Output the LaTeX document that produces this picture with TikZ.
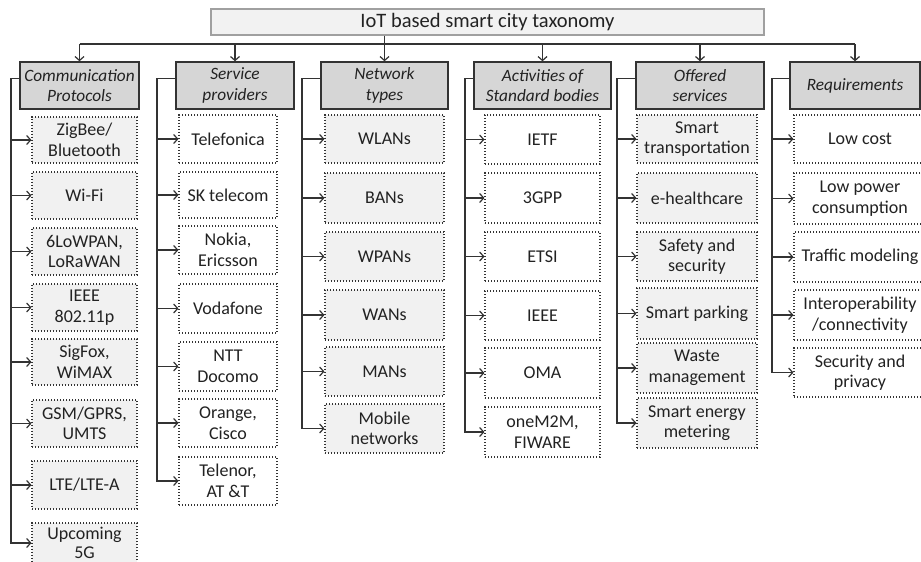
\documentclass[tikz,border=0pt]{standalone}
\usepackage{fontspec}
\setmainfont{Carlito}
\usetikzlibrary{arrows.meta}
\definecolor{linec}{HTML}{333333}
\definecolor{txt}{HTML}{222222}
\definecolor{hfill}{HTML}{D6D6D6}
\definecolor{kfill}{HTML}{F1F1F1}
\definecolor{tfill}{HTML}{F2F2F2}
\definecolor{tborder}{HTML}{A0A0A0}
\begin{document}
\begin{tikzpicture}[x=1pt,y=-1pt,
  every node/.style={text=txt, font=\fontsize{18}{20.5}\selectfont, align=center, inner sep=0pt},
  titlebox/.style={draw=tborder, fill=tfill, line width=1.2pt, minimum width=553pt, minimum height=26pt, font=\fontsize{20.5}{24}\selectfont},
  headbox/.style={draw=linec, fill=hfill, line width=1.4pt, minimum height=47pt, font=\fontsize{17.3}{20.5}\selectfont\itshape},
  kid/.style={draw=linec, line width=1.1pt, dash pattern=on 1.1pt off 1.9pt},
  kidg/.style={kid, fill=kfill},
  kidw/.style={kid, fill=white},
  cA/.style={kidg, minimum width=105pt},
  cB/.style={kidw, minimum width=98pt},
  cC/.style={kidg, minimum width=119pt},
  cD/.style={kidw, minimum width=115pt},
  cE/.style={kidg, minimum width=120pt},
  cF/.style={kidw, minimum width=132pt},
  conn/.style={draw=linec, line width=1.2pt},
  arr/.style={conn, -{Straight Barb[length=4pt,width=9pt]}}
]
\useasboundingbox (0,0) rectangle (921,562);
\fill[white] (0,0) rectangle (921,562);

% title
\node[titlebox] (title) at (487.5,22) {IoT based smart city taxonomy};
\coordinate (bus) at (0,44);

% headers
\node[headbox, minimum width=119pt] (h1) at (79.5,85.5) {Communication\\Protocols};
\node[headbox, minimum width=118pt] (h2) at (235,85.5) {Service\\providers};
\node[headbox, minimum width=127pt] (h3) at (384.5,85.5) {Network\\types};
\node[headbox, minimum width=137pt] (h4) at (542.5,85.5) {Activities of\\Standard bodies};
\node[headbox, minimum width=128pt] (h5) at (700,85.5) {Offered\\services};
\node[headbox, minimum width=130pt] (h6) at (855,85.5) {Requirements};

% column 1
\node[cA, minimum height=46pt] (a1) at (84.5,140) {ZigBee/\\Bluetooth};
\node[cA, minimum height=47pt] (a2) at (84.5,195.5) {Wi-Fi};
\node[cA, minimum height=47pt] (a3) at (84.5,251.5) {6LoWPAN,\\LoRaWAN};
\node[cA, minimum height=47pt] (a4) at (84.5,307.5) {IEEE\\802.11p};
\node[cA, minimum height=46pt] (a5) at (84.5,362) {SigFox,\\WiMAX};
\node[cA, minimum height=47pt] (a6) at (84.5,423.5) {GSM/GPRS,\\UMTS};
\node[cA, minimum height=48pt] (a7) at (84.5,485) {LTE/LTE-A};
\node[cA, minimum height=40pt] (a8) at (84.5,543) {Upcoming\\[-2pt]5G};

% column 2
\node[cB, minimum height=48pt] (b1) at (228,139) {Telefonica};
\node[cB, minimum height=46pt] (b2) at (228,195) {SK telecom};
\node[cB, minimum height=48pt] (b3) at (228,250) {Nokia,\\Ericsson};
\node[cB, minimum height=49pt] (b4) at (228,308.5) {Vodafone};
\node[cB, minimum height=49pt] (b5) at (228,366.5) {NTT\\Docomo};
\node[cB, minimum height=48pt] (b6) at (228,423) {Orange,\\Cisco};
\node[cB, minimum height=48pt] (b7) at (228,481) {Telenor,\\AT \&T};

% column 3
\node[cC, minimum height=48pt] (n1) at (384.5,139) {WLANs};
\node[cC, minimum height=50pt] (n2) at (384.5,198) {BANs};
\node[cC, minimum height=49pt] (n3) at (384.5,256.5) {WPANs};
\node[cC, minimum height=50pt] (n4) at (384.5,315) {WANs};
\node[cC, minimum height=49pt] (n5) at (384.5,371.5) {MANs};
\node[cC, minimum height=49pt] (n6) at (384.5,428.5) {Mobile\\networks};

% column 4
\node[cD, minimum height=49pt] (d1) at (542.5,139.5) {IETF};
\node[cD, minimum height=50pt] (d2) at (542.5,198) {3GPP};
\node[cD, minimum height=49pt] (d3) at (542.5,256.5) {ETSI};
\node[cD, minimum height=49pt] (d4) at (542.5,315.5) {IEEE};
\node[cD, minimum height=50pt] (d5) at (542.5,373) {OMA};
\node[cD, minimum height=50pt] (d6) at (542.5,432) {oneM2M,\\FIWARE};

% column 5
\node[cE, minimum height=48pt] (e1) at (697,139) {Smart\\transportation};
\node[cE, minimum height=50pt] (e2) at (697,198) {e-healthcare};
\node[cE, minimum height=49pt] (e3) at (697,256.5) {Safety and\\security};
\node[cE, minimum height=51pt] (e4) at (697,313.5) {Smart parking};
\node[cE, minimum height=50pt] (e5) at (697,368) {Waste\\management};
\node[cE, minimum height=50pt] (e6) at (697,423) {Smart energy\\metering};

% column 6
\node[cF, minimum height=48pt] (f1) at (860,139) {Low cost};
\node[cF, minimum height=51pt] (f2) at (860,198.5) {Low power\\consumption};
\node[cF, minimum height=50pt] (f3) at (860,257) {Traffic modeling};
\node[cF, minimum height=50pt] (f4) at (860,315) {Interoperability\\/connectivity};
\node[cF, minimum height=49pt] (f5) at (860,372.5) {Security and\\privacy};

% top connectors
\draw[conn] (title.south -| h3.north) -- (h3.north |- bus);
\draw[conn] (h1.north |- bus) -- (h6.north |- bus);
\foreach \h in {h1,h2,h3,h4,h5,h6} {
  \draw[arr] (\h.north |- bus) -- (\h.north);
}

% spine coordinates
\coordinate (s1) at (11,0);
\coordinate (s2) at (157,0);
\coordinate (s3) at (302,0);
\coordinate (s4) at (465,0);
\coordinate (s5) at (617,0);
\coordinate (s6) at (772,0);

% column 1 spine
\draw[arr] ([yshift=7pt]h1.west) -| (s1 |- a8.west) -- (a8.west);
\foreach \k in {a1,a2,a3,a4,a5,a6,a7} { \draw[arr] (s1 |- \k.west) -- (\k.west); }
% column 2
\draw[arr] ([yshift=7pt]h2.west) -| (s2 |- b7.west) -- (b7.west);
\foreach \k in {b1,b2,b3,b4,b5,b6} { \draw[arr] (s2 |- \k.west) -- (\k.west); }
% column 3
\draw[arr] ([yshift=7pt]h3.west) -| (s3 |- n6.west) -- (n6.west);
\foreach \k in {n1,n2,n3,n4,n5} { \draw[arr] (s3 |- \k.west) -- (\k.west); }
% column 4
\draw[arr] ([yshift=7pt]h4.west) -| (s4 |- d6.west) -- (d6.west);
\foreach \k in {d1,d2,d3,d4,d5} { \draw[arr] (s4 |- \k.west) -- (\k.west); }
% column 5
\draw[arr] ([yshift=7pt]h5.west) -| (s5 |- e6.west) -- (e6.west);
\foreach \k in {e1,e2,e3,e4,e5} { \draw[arr] (s5 |- \k.west) -- (\k.west); }
% column 6
\draw[arr] ([yshift=7pt]h6.west) -| (s6 |- f5.west) -- (f5.west);
\foreach \k in {f1,f2,f3,f4} { \draw[arr] (s6 |- \k.west) -- (\k.west); }
\end{tikzpicture}
\end{document}
